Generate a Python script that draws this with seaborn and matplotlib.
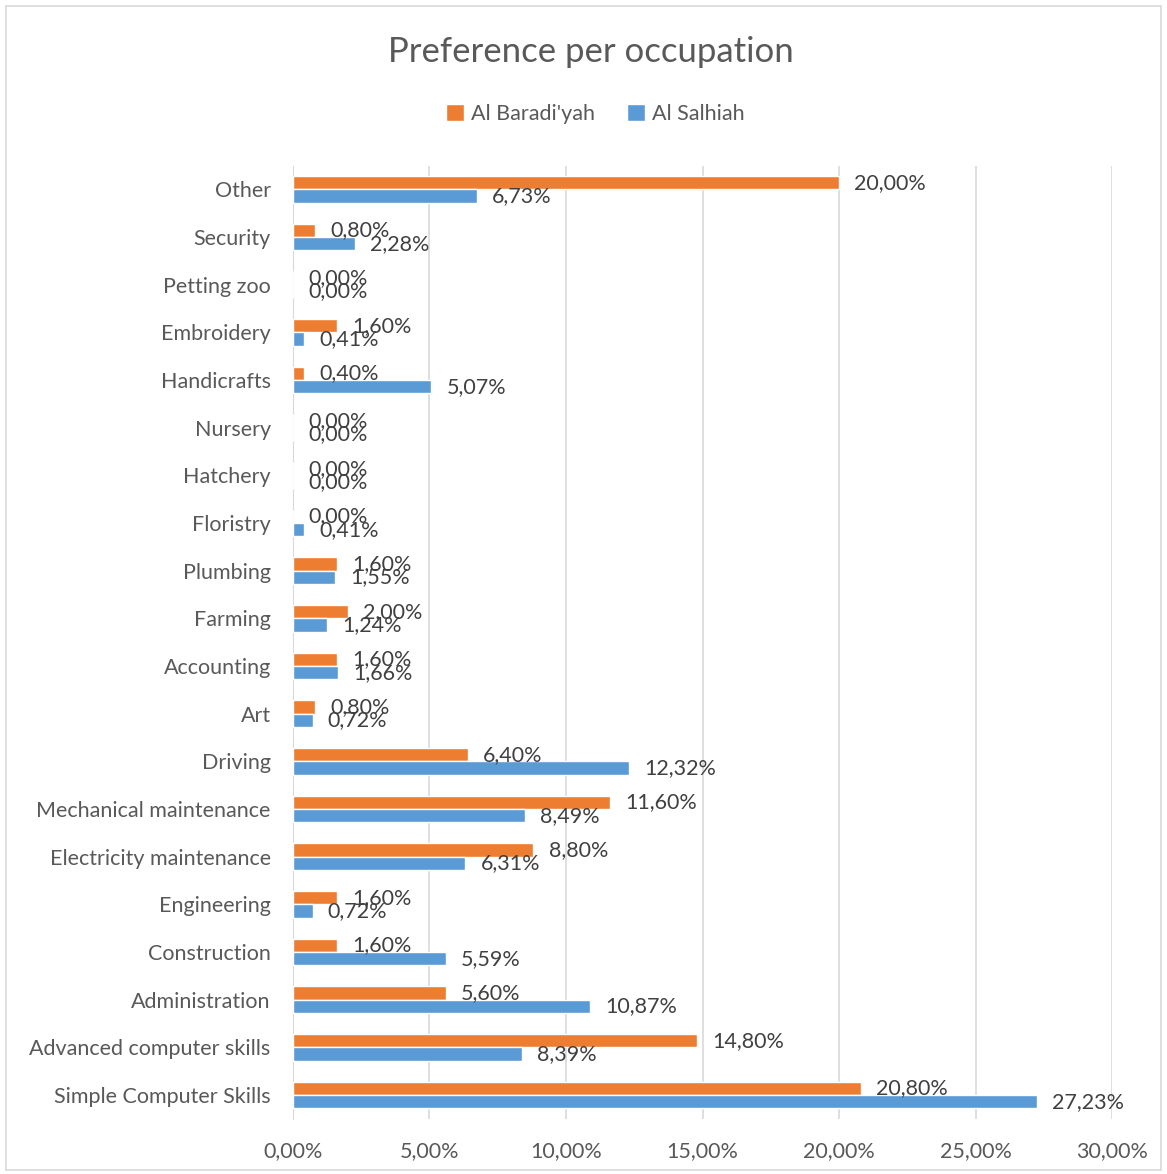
import matplotlib
matplotlib.use("Agg")
import matplotlib.pyplot as plt
from matplotlib.patches import Rectangle
from matplotlib.ticker import FuncFormatter
import seaborn as sns
import pandas as pd

# Data (percent), top to bottom as shown in the chart
categories = ["Other", "Security", "Petting zoo", "Embroidery", "Handicrafts", "Nursery",
              "Hatchery", "Floristry", "Plumbing", "Farming", "Accounting", "Art", "Driving",
              "Mechanical maintenance", "Electricity maintenance", "Engineering",
              "Construction", "Administration", "Advanced computer skills",
              "Simple Computer Skills"]
baradiyah = [20.00, 0.80, 0.00, 1.60, 0.40, 0.00, 0.00, 0.00, 1.60, 2.00, 1.60, 0.80,
             6.40, 11.60, 8.80, 1.60, 1.60, 5.60, 14.80, 20.80]
salhiah = [6.73, 2.28, 0.00, 0.41, 5.07, 0.00, 0.00, 0.41, 1.55, 1.24, 1.66, 0.72,
           12.32, 8.49, 6.31, 0.72, 5.59, 10.87, 8.39, 27.23]
series = ["Al Baradi'yah", "Al Salhiah"]
x_ticks = [0, 5, 10, 15, 20, 25, 30]

df = pd.DataFrame({
    "occupation": categories * 2,
    "value": baradiyah + salhiah,
    "region": [series[0]] * len(categories) + [series[1]] * len(categories),
})

sns.set_style("white")
plt.rcParams["font.family"] = ["Lato", "DejaVu Sans"]

TXT = "#595959"
FS = 15.5
fig = plt.figure(figsize=(11.67, 11.74), dpi=100)
ax = fig.add_axes([0.251, 0.047, 0.702, 0.812])

sns.barplot(data=df, x="value", y="occupation", hue="region", orient="h",
            palette=["#ED7D31", "#5B9BD5"], width=0.56, order=categories,
            hue_order=series, saturation=1, ax=ax, zorder=3)

# data labels next to each bar
for cont in ax.containers:
    labels = ["{:.2f}%".format(b.get_width()).replace(".", ",") for b in cont]
    ax.bar_label(cont, labels=labels, padding=11, fontsize=FS, color="#404040")

ax.set_xlim(0, 30)
ax.set_ylim(len(categories) - 0.5, -0.5)
ax.set_xticks(x_ticks)
ax.xaxis.set_major_formatter(FuncFormatter(lambda v, p: "{:.2f}%".format(v).replace(".", ",")))
ax.grid(axis="x", color="#D9D9D9", linewidth=1.2, zorder=0)
ax.set_axisbelow(True)
for s in ["top", "right", "bottom"]:
    ax.spines[s].set_visible(False)
ax.spines["left"].set_color("#D9D9D9")
ax.tick_params(axis="both", length=0, labelsize=FS, labelcolor=TXT)
ax.tick_params(axis="x", pad=16)
ax.tick_params(axis="y", pad=16)
ax.set_xlabel("")
ax.set_ylabel("")

ax.legend(loc="center", bbox_to_anchor=(0.369, 1.054), ncol=2, frameon=False,
          fontsize=FS, labelcolor=TXT, handlelength=0.85, handleheight=0.85,
          handletextpad=0.3, columnspacing=1.5)

fig.text(0.506, 0.956, "Preference per occupation", ha="center", va="center",
         fontsize=25, color=TXT)

# outer chart frame
fig.patches.append(Rectangle((0.005, 0.003), 0.99, 0.992, transform=fig.transFigure,
                             fill=False, edgecolor="#D9D9D9", linewidth=1.2))

fig.savefig("out.png", dpi=100)
